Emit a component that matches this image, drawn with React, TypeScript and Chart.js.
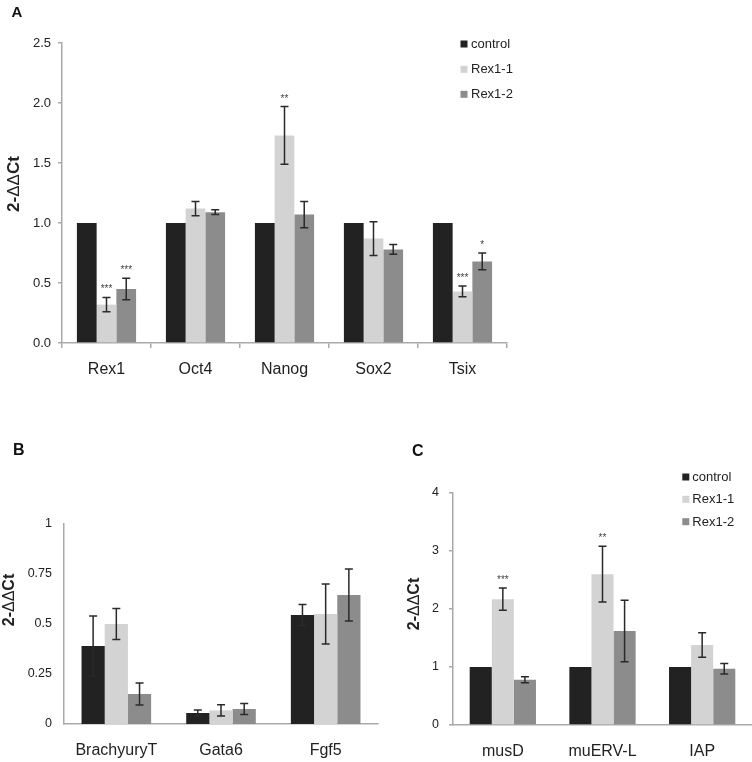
import { useEffect, useRef } from "react";
import { Chart, registerables } from "chart.js";

Chart.register(...registerables);

const FONT = "'Liberation Sans', Arial, Helvetica, sans-serif";
const AXIS = "#a9a9a9";
const TEXT = "#222222";

const seriesNames = ["control", "Rex1-1", "Rex1-2"];
const seriesColors = ["#222222", "#d3d3d3", "#8c8c8c"];

// ---- Panel A ----
const genesA = ["Rex1", "Oct4", "Nanog", "Sox2", "Tsix"];
const controlA = [1, 1, 1, 1, 1];
const controlErrA = [0, 0, 0, 0, 0];
const rex11A = [0.32, 1.12, 1.73, 0.87, 0.43];
const rex11ErrA = [0.06, 0.06, 0.24, 0.14, 0.045];
const rex12A = [0.45, 1.09, 1.07, 0.78, 0.68];
const rex12ErrA = [0.09, 0.02, 0.11, 0.04, 0.07];
const starsControlA = ["", "", "", "", ""];
const starsRex11A = ["***", "", "**", "", "***"];
const starsRex12A = ["***", "", "", "", "*"];
const tickLabelsA = ["0.0", "0.5", "1.0", "1.5", "2.0", "2.5"];

// ---- Panel B ----
const genesB = ["BrachyuryT", "Gata6", "Fgf5"];
const controlB = [0.39, 0.055, 0.545];
const controlErrB = [0.15, 0.015, 0.053];
const rex11B = [0.5, 0.068, 0.55];
const rex11ErrB = [0.077, 0.028, 0.15];
const rex12B = [0.15, 0.075, 0.645];
const rex12ErrB = [0.055, 0.028, 0.13];
const starsNoneB = ["", "", ""];
const tickLabelsB = ["0", "0.25", "0.5", "0.75", "1"];

// ---- Panel C ----
const genesC = ["musD", "muERV-L", "IAP"];
const controlC = [1, 1, 1];
const controlErrC = [0, 0, 0];
const rex11C = [2.17, 2.6, 1.38];
const rex11ErrC = [0.19, 0.48, 0.21];
const rex12C = [0.78, 1.62, 0.97];
const rex12ErrC = [0.05, 0.53, 0.09];
const starsControlC = ["", "", ""];
const starsRex11C = ["***", "**", ""];
const starsRex12C = ["", "", ""];
const tickLabelsC = ["0", "1", "2", "3", "4"];

type Panel = {
  left: number;
  top: number;
  width: number;
  height: number;
  padTop: number;
  padRight: number;
  yWidth: number;
  xHeight: number;
  labels: string[];
  values: number[][];
  errors: number[][];
  stars: string[][];
  max: number;
  step: number;
  tickLabels: string[];
  tickFont: number;
  yTickLen: number;
  yTickPad: number;
  xTickLen: number;
  xTickPad: number;
  letter: string;
  letterPos: [number, number];
  letterSize: number;
  titlePos: [number, number];
  titleSize: number;
  legend: null | { sx: number; tx: number; ys: number[] };
};

const panels: Panel[] = [
  {
    left: 0, top: 0, width: 520, height: 380,
    padTop: 43, padRight: 13, yWidth: 62, xHeight: 37,
    labels: genesA,
    values: [controlA, rex11A, rex12A],
    errors: [controlErrA, rex11ErrA, rex12ErrA],
    stars: [starsControlA, starsRex11A, starsRex12A],
    max: 2.5, step: 0.5, tickLabels: tickLabelsA, tickFont: 13,
    yTickLen: 4, yTickPad: 7, xTickLen: 5, xTickPad: 12,
    letter: "A", letterPos: [17, 12.5], letterSize: 15,
    titlePos: [14, 184], titleSize: 17,
    legend: { sx: 460.5, tx: 471, ys: [44, 69.3, 94.3] },
  },
  {
    left: 0, top: 380, width: 380, height: 382,
    padTop: 144, padRight: 2, yWidth: 64, xHeight: 38,
    labels: genesB,
    values: [controlB, rex11B, rex12B],
    errors: [controlErrB, rex11ErrB, rex12ErrB],
    stars: [starsNoneB, starsNoneB, starsNoneB],
    max: 1, step: 0.25, tickLabels: tickLabelsB, tickFont: 12.5,
    yTickLen: 0, yTickPad: 12, xTickLen: 0, xTickPad: 17,
    letter: "B", letterPos: [18.7, 71], letterSize: 16,
    titlePos: [10, 220], titleSize: 16,
    legend: null,
  },
  {
    left: 380, top: 380, width: 372, height: 382,
    padTop: 113, padRight: 0, yWidth: 73, xHeight: 37,
    labels: genesC,
    values: [controlC, rex11C, rex12C],
    errors: [controlErrC, rex11ErrC, rex12ErrC],
    stars: [starsControlC, starsRex11C, starsRex12C],
    max: 4, step: 1, tickLabels: tickLabelsC, tickFont: 12.5,
    yTickLen: 4, yTickPad: 10, xTickLen: 0, xTickPad: 17,
    letter: "C", letterPos: [37.7, 71.5], letterSize: 16,
    titlePos: [35, 224], titleSize: 16,
    legend: { sx: 302.3, tx: 312.3, ys: [97, 119.3, 141.7] },
  },
];

const errorBarPlugin = {
  id: "errorBars",
  afterDatasetsDraw(chart: any) {
    const ctx = chart.ctx;
    const y = chart.scales.y;
    chart.data.datasets.forEach((ds: any, i: number) => {
      const meta = chart.getDatasetMeta(i);
      meta.data.forEach((bar: any, j: number) => {
        const e = ds.errors[j];
        const v = ds.data[j];
        if (!e) return;
        const top = y.getPixelForValue(v + e);
        const bot = y.getPixelForValue(v - e);
        const x = bar.x;
        ctx.save();
        ctx.strokeStyle = "#2a2a2a";
        ctx.lineWidth = 1.5;
        ctx.beginPath();
        ctx.moveTo(x, top);
        ctx.lineTo(x, bot);
        ctx.moveTo(x - 4, top);
        ctx.lineTo(x + 4, top);
        ctx.moveTo(x - 4, bot);
        ctx.lineTo(x + 4, bot);
        ctx.stroke();
        const s = ds.stars[j];
        if (s) {
          ctx.fillStyle = "#444";
          ctx.font = `10px ${FONT}`;
          ctx.textAlign = "center";
          ctx.textBaseline = "alphabetic";
          ctx.fillText(s, x, top - 5);
        }
        ctx.restore();
      });
    });
  },
};

function makeDecor(p: Panel) {
  return {
    id: "decor",
    afterDraw(chart: any) {
      const ctx = chart.ctx;
      ctx.save();
      // panel letter
      ctx.fillStyle = "#111";
      ctx.font = `bold ${p.letterSize}px ${FONT}`;
      ctx.textAlign = "center";
      ctx.textBaseline = "middle";
      ctx.fillText(p.letter, p.letterPos[0], p.letterPos[1]);
      // y axis title, mixed weights
      const parts = [
        { t: "2-", w: "bold" },
        { t: "ΔΔ", w: "normal" },
        { t: "Ct", w: "bold" },
      ];
      ctx.translate(p.titlePos[0], p.titlePos[1]);
      ctx.rotate(-Math.PI / 2);
      let total = 0;
      const widths = parts.map((pt) => {
        ctx.font = `${pt.w} ${p.titleSize}px ${FONT}`;
        const w = ctx.measureText(pt.t).width;
        total += w;
        return w;
      });
      let xx = -total / 2;
      ctx.textAlign = "left";
      ctx.fillStyle = TEXT;
      parts.forEach((pt, k) => {
        ctx.font = `${pt.w} ${p.titleSize}px ${FONT}`;
        ctx.fillText(pt.t, xx, 0);
        xx += widths[k];
      });
      ctx.restore();
      // legend
      if (p.legend) {
        const lg = p.legend;
        ctx.save();
        chart.data.datasets.forEach((ds: any, i: number) => {
          const yy = lg.ys[i];
          ctx.fillStyle = ds.backgroundColor;
          ctx.fillRect(lg.sx, yy - 3.5, 7, 7);
          ctx.fillStyle = TEXT;
          ctx.font = `13px ${FONT}`;
          ctx.textAlign = "left";
          ctx.textBaseline = "middle";
          ctx.fillText(ds.label, lg.tx, yy + 0.5);
        });
        ctx.restore();
      }
    },
  };
}

function PanelChart({ p }: { p: Panel }) {
  const ref = useRef<HTMLCanvasElement | null>(null);
  useEffect(() => {
    if (!ref.current) return;
    const chart = new Chart(ref.current, {
      type: "bar",
      data: {
        labels: p.labels,
        datasets: p.values.map((vals, i) => ({
          label: seriesNames[i],
          data: vals,
          backgroundColor: seriesColors[i],
          borderWidth: 0,
          categoryPercentage: 0.665,
          barPercentage: 1,
          errors: p.errors[i],
          stars: p.stars[i],
        })) as any,
      },
      options: {
        animation: false,
        responsive: false,
        maintainAspectRatio: false,
        layout: { padding: { left: 0, right: p.padRight, top: p.padTop, bottom: 0 } },
        plugins: { legend: { display: false }, tooltip: { enabled: false } },
        scales: {
          x: {
            grid: {
              display: p.xTickLen > 0,
              drawOnChartArea: false,
              drawTicks: p.xTickLen > 0,
              tickLength: p.xTickLen,
              color: AXIS,
              lineWidth: 1.5,
              offset: true,
            },
            border: { display: true, color: AXIS, width: 1.5 },
            ticks: {
              font: { family: FONT, size: 16 },
              color: TEXT,
              padding: p.xTickPad,
              maxRotation: 0,
              autoSkip: false,
            },
            afterFit: (s: any) => {
              s.height = p.xHeight;
            },
          },
          y: {
            min: 0,
            max: p.max,
            grid: {
              display: p.yTickLen > 0,
              drawOnChartArea: false,
              drawTicks: p.yTickLen > 0,
              tickLength: p.yTickLen,
              color: AXIS,
              lineWidth: 1.5,
            },
            border: { display: true, color: AXIS, width: 1.5 },
            ticks: {
              stepSize: p.step,
              font: { family: FONT, size: p.tickFont },
              color: TEXT,
              padding: p.yTickPad,
              callback: (_v: any, i: number) => p.tickLabels[i],
            },
            afterFit: (s: any) => {
              s.width = p.yWidth;
            },
          },
        },
      } as any,
      plugins: [errorBarPlugin, makeDecor(p)],
    });
    return () => chart.destroy();
  }, [p]);
  return (
    <canvas
      ref={ref}
      width={p.width}
      height={p.height}
      style={{
        position: "absolute",
        left: p.left,
        top: p.top,
        width: p.width,
        height: p.height,
      }}
    />
  );
}

export default function App() {
  return (
    <div
      style={{
        position: "absolute",
        left: 0,
        top: 0,
        width: 752,
        height: 762,
        background: "#ffffff",
        overflow: "hidden",
      }}
    >
      {panels.map((p) => (
        <PanelChart key={p.letter} p={p} />
      ))}
    </div>
  );
}
